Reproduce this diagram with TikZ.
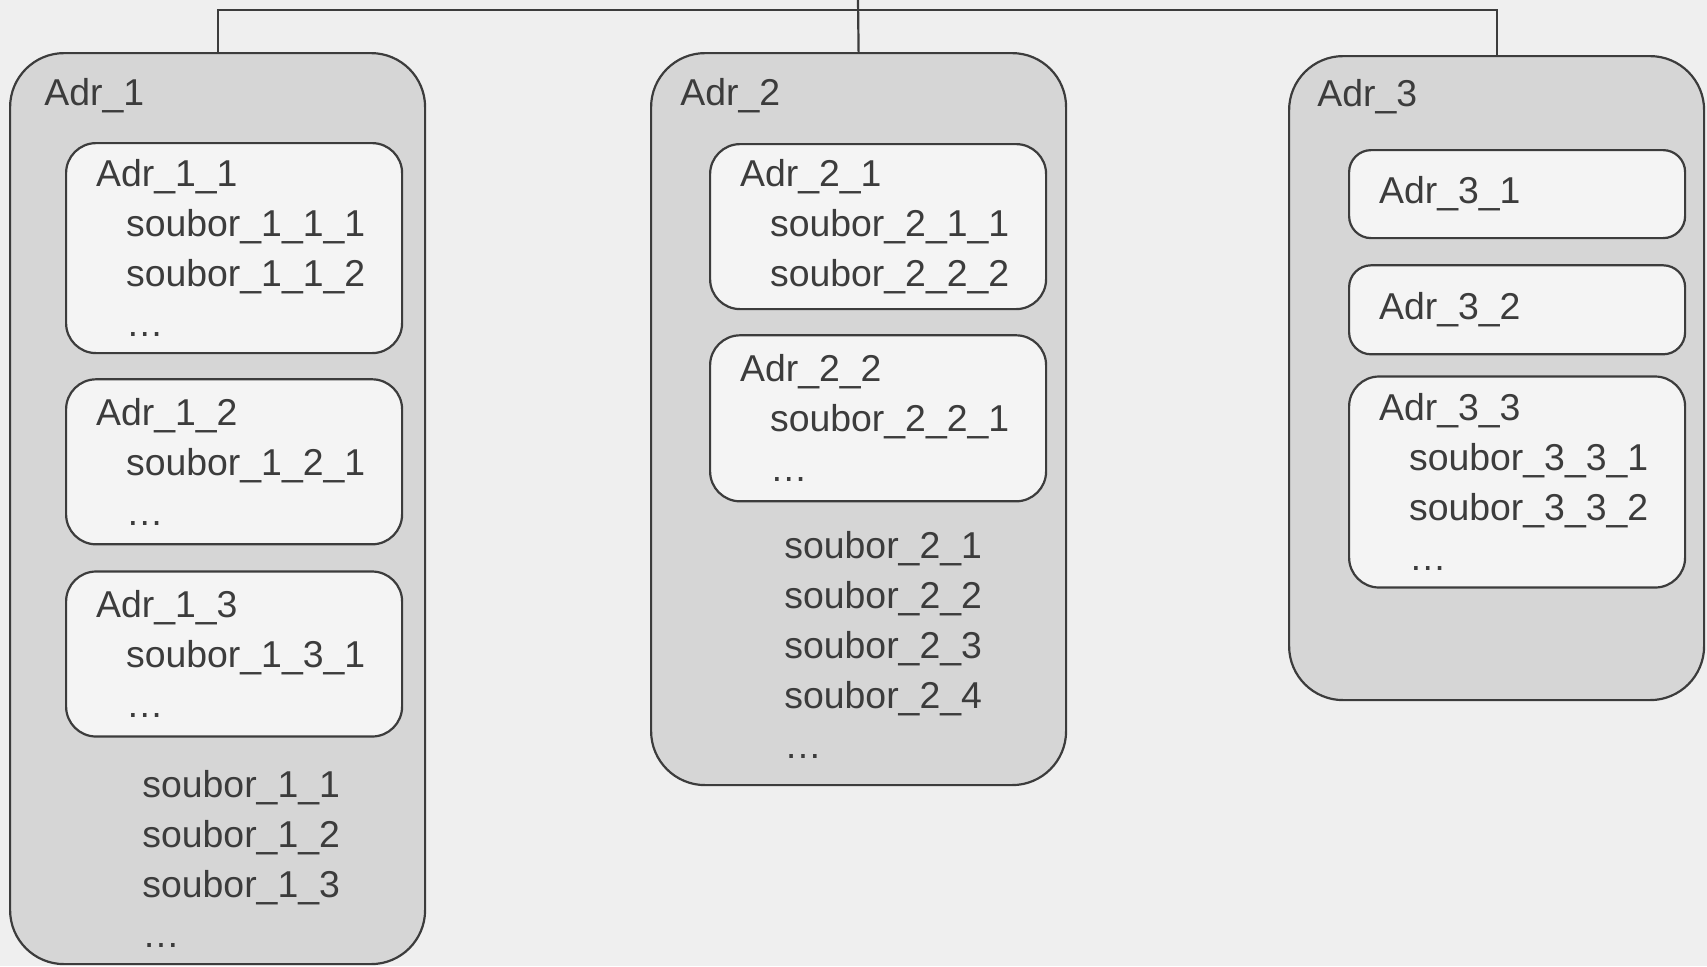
\documentclass[tikz,border=0pt]{standalone}
\usepackage{fontspec}
\setmainfont{Liberation Sans}
\usetikzlibrary{positioning}
\definecolor{paper}{HTML}{EFEFEF}
\definecolor{shade}{HTML}{D6D6D6}
\definecolor{card}{HTML}{F4F4F4}
\definecolor{ink}{HTML}{3C3C3C}
\tikzstyle{link}=[draw=ink, line width=1.1pt]
\tikzstyle{dir}=[link, fill=shade, rounded corners=27pt, minimum width=207.5pt, inner sep=0pt, anchor=north west]
\tikzstyle{subdir}=[link, fill=card, rounded corners=15pt, minimum width=168pt, text width=138pt, inner xsep=15pt, inner ysep=0pt, align=left, anchor=north west]
\tikzstyle{tag}=[anchor=west, inner sep=0pt]
\tikzstyle{files}=[anchor=west, inner sep=0pt, align=left]
\newcommand{\fileind}{\hspace*{15pt}}
\hyphenpenalty=10000

\begin{document}
\begin{tikzpicture}[x=0.5pt, y=-0.5pt, font=\fontsize{18.7}{25}\selectfont, text=ink]
  \fill[paper] (0,0) rectangle (1707,966);
  \useasboundingbox (0,0) rectangle (1707,966);
  \node[dir, minimum height=455.5pt] (a1) at (9,52) {};
  \node[dir, minimum height=366pt] (a2) at (650,52) {};
  \node[dir, minimum height=322pt] (a3) at (1288,55) {};
  \node[tag] (t1) at (44,96) {Adr\_1};
  \node[tag] (t2) at (680,96) {Adr\_2};
  \node[tag] (t3) at (1317,97) {Adr\_3};
  \node[subdir, minimum height=105pt] (a11) at (65,142) {Adr\_1\_1\\\fileind soubor\_1\_1\_1\\\fileind soubor\_1\_1\_2\\\fileind\ldots};
  \node[subdir, minimum height=82.5pt] (a12) [below=12pt of a11] {Adr\_1\_2\\\fileind soubor\_1\_2\_1\\\fileind\ldots};
  \node[subdir, minimum height=82.5pt] (a13) [below=12.5pt of a12] {Adr\_1\_3\\\fileind soubor\_1\_3\_1\\\fileind\ldots};
  \node[files] (l1) at (142,859) {soubor\_1\_1\\soubor\_1\_2\\soubor\_1\_3\\\ldots};
  \node[subdir, minimum height=82.5pt] (a21) at (709,143) {Adr\_2\_1\\\fileind soubor\_2\_1\_1\\\fileind soubor\_2\_2\_2};
  \node[subdir, minimum height=83pt] (a22) [below=12pt of a21] {Adr\_2\_2\\\fileind soubor\_2\_2\_1\\\fileind\ldots};
  \node[files] (l2) at (784,645) {soubor\_2\_1\\soubor\_2\_2\\soubor\_2\_3\\soubor\_2\_4\\\ldots};
  \node[subdir, minimum height=44pt, rounded corners=11pt] (a31) at (1348,149) {Adr\_3\_1};
  \node[subdir, minimum height=44.5pt, rounded corners=11pt] (a32) [below=12.5pt of a31] {Adr\_3\_2};
  \node[subdir, minimum height=105.5pt] (a33) [below=10pt of a32] {Adr\_3\_3\\\fileind soubor\_3\_3\_1\\\fileind soubor\_3\_3\_2\\\fileind\ldots};
  \coordinate (root) at (858,0);
  \coordinate (bar) at (858,10);
  \draw[link] (a1.north) |- (bar) -| (a3.north);
  \draw[link] (root) -- (a2.north);
\end{tikzpicture}
\end{document}
